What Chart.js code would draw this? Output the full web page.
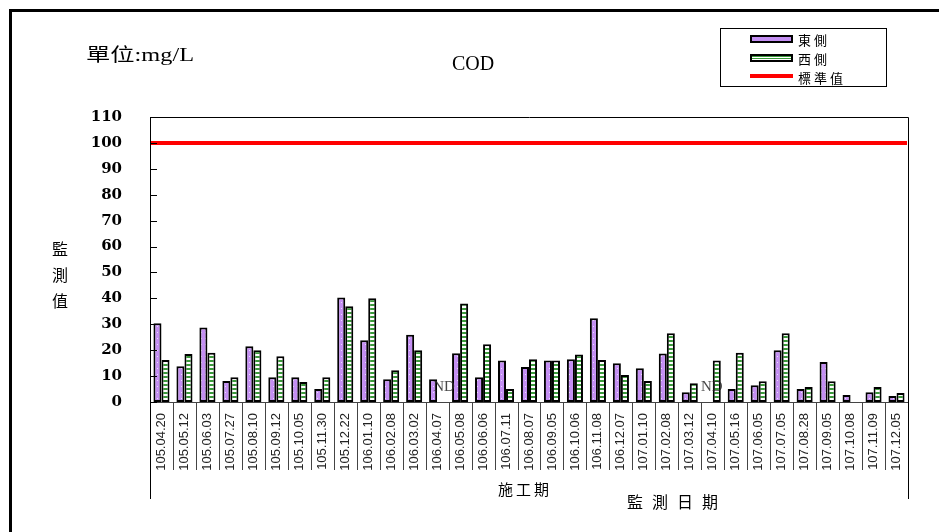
<!DOCTYPE html>
<html>
<head>
<meta charset="utf-8">
<script src="https://cdn.jsdelivr.net/npm/chart.js@4.4.0/dist/chart.umd.min.js"></script>
<style>
html,body{margin:0;padding:0;background:#fff;width:939px;height:532px;overflow:hidden;}
#wrap{position:relative;width:939px;height:532px;overflow:hidden;}
#c{position:absolute;left:0;top:0;}
.t{position:absolute;white-space:nowrap;color:#000;font-family:"Liberation Serif","Noto Sans CJK TC",serif;line-height:1;}
#frame{position:absolute;left:9px;top:9px;width:980px;height:600px;border-left:3px solid #000;border-top:3px solid #000;}
#legend{position:absolute;left:720px;top:28px;width:165px;height:57px;border:1px solid #000;background:#fff;}
.lrow{position:absolute;left:29px;height:16px;}
.sw{position:absolute;left:0;top:4px;width:39px;height:4px;border:2px solid #000;}
.lt{position:absolute;left:48px;top:-1px;font-size:13px;font-family:"Noto Sans CJK TC",sans-serif;letter-spacing:3px;white-space:nowrap;}
</style>
</head>
<body>
<div id="wrap">
  <canvas id="c" width="939" height="532"></canvas>
  <div id="frame"></div>
  <div class="t" style="left:86px;top:46px;font-size:18px;transform:scaleX(1.35);transform-origin:left top;">單位:mg/L</div>
  <div class="t" style="left:452px;top:53px;font-size:20px;">COD</div>
  <div id="legend">
    <div class="lrow" style="top:2px;"><div class="sw" id="swE" style="background:#c48ff3;"></div><div class="lt">東側</div></div>
    <div class="lrow" style="top:21px;"><div class="sw" id="swW" style="background:repeating-linear-gradient(to bottom,#3a9a3a 0 1px,#ffffff 1px 2px);"></div><div class="lt">西側</div></div>
    <div class="lrow" style="top:40px;"><div style="position:absolute;left:0;top:5px;width:43px;height:4px;background:#ff0000;"></div><div class="lt">標準值</div></div>
  </div>
  <div class="t" style="left:52px;top:235px;font-size:16px;font-family:'Noto Sans CJK TC',sans-serif;line-height:26px;">監<br>測<br>值</div>
  <div class="t" style="left:498px;top:481px;font-size:15px;font-family:'Noto Sans CJK TC',sans-serif;letter-spacing:3px;">施工期</div>
  <div class="t" style="left:627px;top:493px;font-size:16px;font-family:'Noto Sans CJK TC',sans-serif;letter-spacing:9px;">監測日期</div>
</div>
<script>
// ---- data ----
const categories = ['105.04.20','105.05.12','105.06.03','105.07.27','105.08.10','105.09.12','105.10.05','105.11.30','105.12.22',
  '106.01.10','106.02.08','106.03.02','106.04.07','106.05.08','106.06.06','106.07.11','106.08.07','106.09.05','106.10.06',
  '106.11.08','106.12.07','107.01.10','107.02.08','107.03.12','107.04.10','107.05.16','107.06.05','107.07.05','107.08.28',
  '107.09.05','107.10.08','107.11.09','107.12.05'];
const eastValues = [30.4,13.8,28.8,8.1,21.5,9.6,9.6,5,40.3,23.8,8.8,26,8.8,18.8,9.6,16,13.5,16,16.5,32.3,15,13,18.7,3.8,null,5,6.5,20,5,15.4,2.7,3.8,2.3];
const westValues = [16.2,18.5,19,9.6,20,17.7,7.7,9.6,37,40,12.3,20,null,38,22.3,5,16.5,16,18.3,16.2,10.4,8.1,26.5,7.2,16,19,8,26.5,5.8,8,null,5.8,3.5];
const standardValues = [100,100,100,100,100,100,100,100,100,100,100,100,100,100,100,100,100,100,100,100,100,100,100,100,100,100,100,100,100,100,100,100,100];
const yTickValues = [0,10,20,30,40,50,60,70,80,90,100,110];
const ndMarks = [{series:0, category:'106.04.07'}, {series:1, category:'107.04.10'}]; // series 0 = west slot, 1 = east slot
const seriesNames = ['東側','西側','標準值'];

// ---- patterns ----
function makePattern(draw, w, h){
  const cv = document.createElement('canvas'); cv.width = w; cv.height = h;
  const g = cv.getContext('2d'); draw(g);
  return g.createPattern(cv, 'repeat');
}
const ctx = document.getElementById('c').getContext('2d');
const purplePat = makePattern(g => { g.fillStyle = '#c48ff3'; g.fillRect(0,0,4,6); g.fillStyle = '#eadcff'; g.fillRect(1,2,1,1); }, 4, 6);
const greenPat = makePattern(g => { g.fillStyle = '#ffffff'; g.fillRect(0,0,4,4); g.fillStyle = '#3a9a3a'; g.fillRect(0,0,4,2); }, 4, 4);

const deco = {
  id: 'deco',
  afterDatasetsDraw(chart){
    const {ctx, chartArea: a, scales: {x, y}} = chart;
    const n = categories.length;
    const cw = (a.right - a.left) / n;
    const y0 = y.getPixelForValue(0);
    ctx.save();
    // standard line across full width
    ctx.strokeStyle = '#ff0000'; ctx.lineWidth = 4;
    ctx.beginPath();
    const ys = y.getPixelForValue(standardValues[0]);
    ctx.moveTo(a.left + 1, ys); ctx.lineTo(a.right - 1, ys); ctx.stroke();
    // frame
    ctx.strokeStyle = '#000'; ctx.lineWidth = 1;
    ctx.beginPath();
    ctx.moveTo(a.left + 0.5, 499); ctx.lineTo(a.left + 0.5, a.top + 0.5);
    ctx.lineTo(a.right + 0.5, a.top + 0.5); ctx.lineTo(a.right + 0.5, 499);
    ctx.stroke();
    // x axis line
    ctx.strokeStyle = '#444';
    ctx.beginPath(); ctx.moveTo(a.left, Math.round(y0) + 0.5); ctx.lineTo(a.right, Math.round(y0) + 0.5); ctx.stroke();
    // category separators
    for (let i = 1; i < n; i++) {
      const xx = Math.round(a.left + i * cw) + 0.5;
      ctx.beginPath(); ctx.moveTo(xx, y0); ctx.lineTo(xx, y0 + 68); ctx.stroke();
    }
    // y ticks inside
    ctx.strokeStyle = '#000';
    yTickValues.forEach(v => {
      const yy = Math.round(y.getPixelForValue(v)) + 0.5;
      ctx.beginPath(); ctx.moveTo(a.left, yy); ctx.lineTo(a.left + 7, yy); ctx.stroke();
    });
    // ND labels
    ctx.font = '15px "Liberation Serif", serif';
    ctx.fillStyle = 'rgba(40,40,40,0.85)';
    ctx.textAlign = 'center'; ctx.textBaseline = 'middle';
    ndMarks.forEach(m => {
      const i = categories.indexOf(m.category);
      const cx = x.getPixelForValue(i);
      const off = m.series === 0 ? cw * 0.17 : -cw * 0.17;
      ctx.fillText('ND', cx + off + 3, y0 - 15);
    });
    ctx.restore();
  }
};

new Chart(ctx, {
  type: 'bar',
  data: {
    labels: categories,
    datasets: [
      { label: seriesNames[0], data: eastValues, backgroundColor: purplePat, borderColor: '#000', borderWidth: 2, borderSkipped: false,
        categoryPercentage: 0.7, barPercentage: 1.0, order: 2 },
      { label: seriesNames[1], data: westValues, backgroundColor: greenPat, borderColor: '#000', borderWidth: 2, borderSkipped: false,
        categoryPercentage: 0.7, barPercentage: 1.0, order: 2 },
      { type: 'line', label: seriesNames[2], data: standardValues, borderColor: '#ff0000', borderWidth: 4, pointRadius: 0, fill: false, order: 1 }
    ]
  },
  options: {
    responsive: false,
    animation: false,
    devicePixelRatio: 1,
    layout: { padding: { left: 0, top: 117, right: 31, bottom: 60 } },
    plugins: { legend: { display: false }, title: { display: false }, tooltip: { enabled: false } },
    scales: {
      x: {
        type: 'category',
        grid: { display: false },
        border: { display: false },
        ticks: { autoSkip: false, minRotation: 90, maxRotation: 90, padding: 3, color: '#222',
                 font: { family: '"Liberation Sans", sans-serif', size: 13 } },
        afterFit(s){ s.height = 70; }
      },
      y: {
        min: 0, max: 110,
        grid: { display: false },
        border: { display: false },
        afterBuildTicks(s){ s.ticks = yTickValues.map(v => ({ value: v })); },
        ticks: { padding: 20, color: '#000', font: { family: '"DejaVu Serif", serif', size: 15, weight: 'bold' } },
        afterFit(s){ s.width = 150; }
      }
    }
  },
  plugins: [deco]
});
</script>
</body>
</html>
